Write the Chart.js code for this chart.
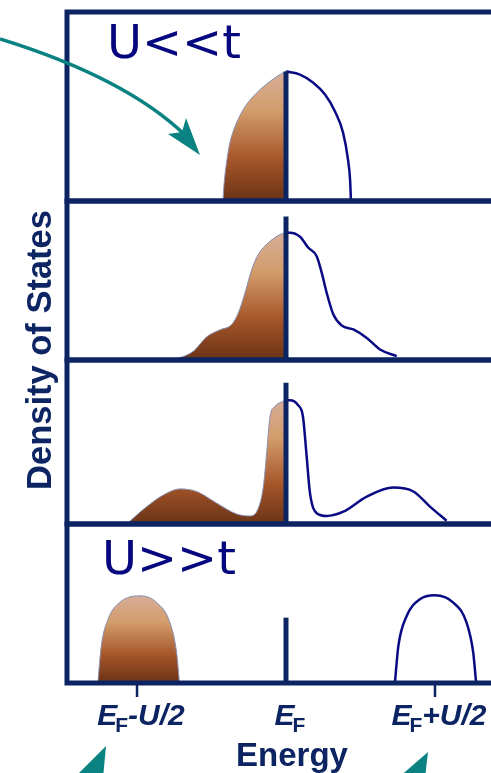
<!DOCTYPE html>
<html>
<head>
<meta charset="utf-8">
<script src="https://cdn.jsdelivr.net/npm/chart.js@4.4.1/dist/chart.umd.min.js"></script>
<style>
  body { margin: 0; background: #fff; }
  #page { position: relative; width: 491px; height: 773px; overflow: hidden; background: #fff; }
  .panel { position: absolute; left: 0; width: 491px; }
  .regime {
    position: absolute; font-family: "DejaVu Sans", Verdana, sans-serif; font-size: 46px;
    line-height: 46px; color: #06067f; white-space: nowrap; transform: scaleX(1.04); transform-origin: left top;
  }
  #ylabel {
    position: absolute; left: 39px; top: 350px; transform: translate(-50%, -50%) rotate(-90deg);
    font-family: "Liberation Sans", Arial, sans-serif; font-weight: bold; font-size: 34.5px;
    line-height: 34px; color: #0d2562; white-space: nowrap;
  }
  #arrows { position: absolute; left: 0; top: 0; pointer-events: none; }
</style>
</head>
<body>
<div id="page">
  <div class="panel" style="top:7px;height:199px"><canvas id="p1"></canvas></div>
  <div class="panel" style="top:196px;height:169px"><canvas id="p2"></canvas></div>
  <div class="panel" style="top:355px;height:174px"><canvas id="p3"></canvas></div>
  <div class="panel" style="top:519px;height:254px"><canvas id="p4"></canvas></div>
  <div class="regime" style="left:107px;top:19px">U&lt;&lt;t</div>
  <div class="regime" style="left:102px;top:535px">U&gt;&gt;t</div>
  <div id="ylabel">Density of States</div>
  <canvas id="arrows" width="491" height="773"></canvas>
</div>
<script>
// Energy axis: E_F = 0, E_F +/- U/2 = +/-1
const X_MIN = -1.47;
const X_MAX = 1.376;
const tickValues = [-1, 0, 1];
const tickSuffix = ['-U/2', '', '+U/2'];

// Panel 1: U<<t (filled = occupied, empty = outline only)
const p1FilledE = [-0.423, -0.416, -0.396, -0.376, -0.342, -0.302, -0.255, -0.201, -0.141, -0.081, -0.030, 0];
const p1FilledDos = [0, 0.087, 0.220, 0.310, 0.394, 0.463, 0.521, 0.569, 0.612, 0.648, 0.674, 0.685];
const p1EmptyE = [0, 0.094, 0.181, 0.262, 0.329, 0.383, 0.416, 0.430, 0.436];
const p1EmptyDos = [0.685, 0.669, 0.627, 0.563, 0.474, 0.362, 0.220, 0.114, 0];

// Panel 2
const p2FilledE = [-0.756, -0.622, -0.532, -0.443, -0.365, -0.320, -0.275, -0.230, -0.186, -0.119, -0.040, 0];
const p2FilledDos = [0, 0.055, 0.146, 0.190, 0.223, 0.296, 0.423, 0.569, 0.664, 0.737, 0.789, 0.800];
const p2EmptyE = [0, 0.027, 0.094, 0.150, 0.206, 0.240, 0.273, 0.318, 0.374, 0.452, 0.542, 0.631, 0.743];
const p2EmptyDos = [0.800, 0.800, 0.775, 0.706, 0.653, 0.548, 0.423, 0.286, 0.217, 0.192, 0.139, 0.066, 0.024];

// Panel 3
const p3FilledE = [-1.069, -0.935, -0.823, -0.711, -0.600, -0.465, -0.331, -0.242, -0.186, -0.152, -0.130, -0.107, -0.074, -0.018, 0];
const p3FilledDos = [0, 0.106, 0.177, 0.214, 0.198, 0.127, 0.061, 0.049, 0.096, 0.228, 0.432, 0.656, 0.718, 0.748, 0.755];
const p3EmptyE = [0, 0.025, 0.081, 0.114, 0.137, 0.161, 0.206, 0.273, 0.385, 0.542, 0.721, 0.855, 0.966, 1.078];
const p3EmptyDos = [0.755, 0.755, 0.725, 0.654, 0.430, 0.188, 0.066, 0.049, 0.075, 0.167, 0.222, 0.198, 0.106, 0.020];

// Panel 4: U>>t, lower and upper Hubbard bands
const p4FilledE = [-1.262, -1.240, -1.195, -1.117, -0.980, -0.868, -0.779, -0.734, -0.716];
const p4FilledDos = [0.011, 0.232, 0.400, 0.506, 0.548, 0.506, 0.380, 0.190, 0.011];
const p4EmptyE = [0.732, 0.754, 0.810, 0.899, 0.999, 1.123, 1.212, 1.257, 1.275];
const p4EmptyDos = [0.011, 0.232, 0.421, 0.527, 0.552, 0.506, 0.380, 0.190, 0.011];

// height of the E_F marker in each panel
const efLineTop = [0.685, 0.903, 0.861, 0.411];

const FRAME = '#0c2462';
const CURVE = '#0a0a85';
const FONT = '"Liberation Sans", Arial, sans-serif';

function toPoints(xs, ys) {
  return xs.map((x, i) => ({ x, y: ys[i] }));
}

// brown gradient from the band's top down to the panel floor
function brownFill(context) {
  const chart = context.chart;
  const area = chart.chartArea;
  if (!area) return '#a0522d';
  const peak = Math.max(...context.dataset.data.map(p => p.y));
  const top = chart.scales.y.getPixelForValue(peak);
  const g = chart.ctx.createLinearGradient(0, top, 0, area.bottom);
  g.addColorStop(0, '#d7ad98');
  g.addColorStop(0.3, '#d39d6c');
  g.addColorStop(0.68, '#a5552a');
  g.addColorStop(1, '#6a3316');
  return g;
}

const framePlugin = {
  id: 'frame',
  afterDatasetsDraw(chart) {
    const { ctx, chartArea: a } = chart;
    ctx.save();
    ctx.strokeStyle = FRAME;
    ctx.lineWidth = 5;
    ctx.lineJoin = 'miter';
    ctx.beginPath();
    ctx.moveTo(chart.width + 10, a.top);
    ctx.lineTo(a.left, a.top);
    ctx.lineTo(a.left, a.bottom);
    ctx.lineTo(chart.width + 10, a.bottom);
    ctx.stroke();
    ctx.restore();
  }
};

const energyAxisPlugin = {
  id: 'energyAxis',
  afterDraw(chart) {
    const { ctx, chartArea: a } = chart;
    const xs = chart.scales.x;
    ctx.save();
    ctx.fillStyle = FRAME;
    ctx.strokeStyle = FRAME;
    ctx.lineWidth = 2.5;
    const big = 'italic bold 30px ' + FONT;
    const small = 'bold 21px ' + FONT;
    tickValues.forEach((v, i) => {
      const x = xs.getPixelForValue(v);
      if (v !== 0) {
        ctx.beginPath();
        ctx.moveTo(x, a.bottom);
        ctx.lineTo(x, a.bottom + 14);
        ctx.stroke();
      }
      ctx.font = big;
      const wE = ctx.measureText('E').width;
      const wS = ctx.measureText(tickSuffix[i]).width;
      ctx.font = small;
      const wF = ctx.measureText('F').width - 2;
      let cx = x - (wE + wF + wS) / 2 + 4;
      const base = a.bottom + 42;
      ctx.textAlign = 'left';
      ctx.font = big;
      ctx.fillText('E', cx, base);
      cx += wE;
      ctx.font = small;
      ctx.fillText('F', cx - 2, base + 7);
      cx += wF;
      ctx.font = big;
      ctx.fillText(tickSuffix[i], cx, base);
    });
    ctx.font = 'bold 33px ' + FONT;
    ctx.textAlign = 'center';
    ctx.fillText('Energy', xs.getPixelForValue(0) + 6, a.bottom + 83);
    ctx.restore();
  }
};

function makePanel(id, filledE, filledDos, emptyE, emptyDos, efTop, bottomPad) {
  const plugins = [framePlugin];
  if (bottomPad > 5) plugins.push(energyAxisPlugin);
  return new Chart(document.getElementById(id), {
    type: 'line',
    data: {
      datasets: [
        {
          data: [{ x: 0, y: 0 }, { x: 0, y: efTop }],
          borderColor: FRAME,
          borderWidth: 5,
          borderCapStyle: 'butt',
          pointRadius: 0,
          tension: 0,
          fill: false
        },
        {
          data: toPoints(emptyE, emptyDos),
          borderColor: CURVE,
          borderWidth: 2.5,
          pointRadius: 0,
          cubicInterpolationMode: 'monotone',
          fill: false
        },
        {
          data: toPoints(filledE, filledDos),
          borderColor: '#8890b4',
          borderWidth: 1,
          backgroundColor: brownFill,
          pointRadius: 0,
          cubicInterpolationMode: 'monotone',
          fill: 'origin'
        }
      ]
    },
    options: {
      responsive: true,
      maintainAspectRatio: false,
      animation: false,
      layout: { padding: { left: 67, right: 0, top: 5, bottom: bottomPad } },
      plugins: {
        legend: { display: false },
        tooltip: { enabled: false }
      },
      scales: {
        x: { type: 'linear', min: X_MIN, max: X_MAX, display: false },
        y: { min: 0, max: 1, display: false }
      }
    },
    plugins
  });
}

makePanel('p1', p1FilledE, p1FilledDos, p1EmptyE, p1EmptyDos, efLineTop[0], 5);
makePanel('p2', p2FilledE, p2FilledDos, p2EmptyE, p2EmptyDos, efLineTop[1], 5);
makePanel('p3', p3FilledE, p3FilledDos, p3EmptyE, p3EmptyDos, efLineTop[2], 5);
makePanel('p4', p4FilledE, p4FilledDos, p4EmptyE, p4EmptyDos, efLineTop[3], 90);

// teal pointer arrows (decoration)
const actx = document.getElementById('arrows').getContext('2d');
actx.strokeStyle = '#0b8282';
actx.fillStyle = '#0b8282';
actx.lineWidth = 3.5;
actx.beginPath();
actx.moveTo(0, 39);
actx.quadraticCurveTo(126, 78, 186, 136);
actx.stroke();
function arrowHead(points) {
  actx.beginPath();
  actx.moveTo(points[0][0], points[0][1]);
  points.slice(1).forEach(p => actx.lineTo(p[0], p[1]));
  actx.closePath();
  actx.fill();
}
arrowHead([[200, 155], [168, 134], [182, 132], [186, 118]]);
arrowHead([[106, 746], [74, 778], [103, 778]]);
arrowHead([[428, 752], [398, 778], [425, 778]]);
</script>
</body>
</html>
